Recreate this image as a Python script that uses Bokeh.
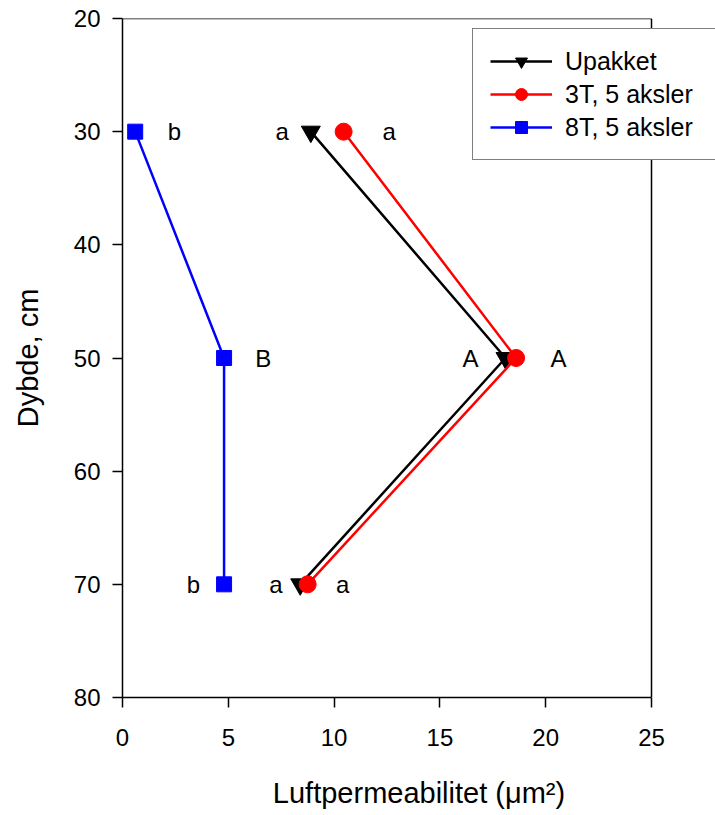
from bokeh.plotting import figure
from bokeh.models import ColumnDataSource, Legend, LegendItem, Range1d, FixedTicker
from bokeh.embed import file_html
from bokeh.resources import INLINE
from bokeh.core.properties import value

depth = [30, 50, 70]
upakket = [8.9, 18.1, 8.4]
t3 = [10.45, 18.6, 8.75]
t8 = [0.6, 4.8, 4.8]

series_names = ["Upakket", "3T, 5 aksler", "8T, 5 aksler"]

letter_x = [2.45, 7.55, 12.6, 6.65, 16.45, 20.6, 3.35, 7.25, 10.4]
letter_y = [30, 30, 30, 50, 50, 50, 70, 70, 70]
letter_txt = ["b", "a", "a", "B", "A", "A", "b", "a", "a"]

x_ticks = [0, 5, 10, 15, 20, 25]
y_ticks = [20, 30, 40, 50, 60, 70, 80]

FONT = "Liberation Sans"

# frame: left 122 .. 715 px; the axis box ends at x=25 (651 px)
FRAME_L, FRAME_R, AXIS_R = 122, 715, 651
x_end = x_ticks[-1] * (FRAME_R - FRAME_L) / (AXIS_R - FRAME_L)

p = figure(width=715, height=815, output_backend="svg", toolbar_location=None,
           x_range=Range1d(x_ticks[0], x_end), y_range=Range1d(y_ticks[-1], y_ticks[0]),
           min_border_left=FRAME_L, min_border_right=0, min_border_top=18, min_border_bottom=118)
p.grid.visible = False
p.outline_line_color = None
p.background_fill_color = "white"
p.border_fill_color = "white"

for ax in (p.xaxis[0], p.yaxis[0]):
    ax.major_label_text_font = FONT
    ax.major_label_text_font_size = "24px"
    ax.major_label_text_color = "black"
    ax.axis_label_text_font = FONT
    ax.axis_label_text_font_size = "29px"
    ax.axis_label_text_font_style = "normal"
    ax.axis_label_text_color = "black"
    ax.axis_line_width = 1.5
    ax.major_tick_line_width = 1.5
    ax.major_tick_out = 10
    ax.major_tick_in = 0
    ax.minor_tick_out = 0
    ax.minor_tick_in = 0

p.xaxis.bounds = (x_ticks[0], x_ticks[-1])
p.xaxis.ticker = FixedTicker(ticks=x_ticks)
p.yaxis.ticker = FixedTicker(ticks=y_ticks)
p.xaxis.axis_label = "Luftpermeabilitet (μm²)"
p.yaxis.axis_label = "Dybde, cm"
p.xaxis.major_label_standoff = 21
p.yaxis.major_label_standoff = 12
p.xaxis.axis_label_standoff = 28
p.yaxis.axis_label_standoff = 27

# top and right edges of the axis box
p.segment(x0=[x_ticks[0], x_ticks[-1]], y0=[y_ticks[0], y_ticks[0]],
          x1=[x_ticks[-1], x_ticks[-1]], y1=[y_ticks[0], y_ticks[-1]],
          line_color="black", line_width=1.5)

src = ColumnDataSource(dict(depth=depth, upakket=upakket, t3=t3, t8=t8))

l1 = p.line("upakket", "depth", source=src, line_color="black", line_width=2.5)
m1 = p.scatter("upakket", "depth", source=src, marker="inverted_triangle", size=19,
               fill_color="black", line_color="black")
l2 = p.line("t3", "depth", source=src, line_color="red", line_width=2.5)
m2 = p.scatter("t3", "depth", source=src, marker="circle", size=17,
               fill_color="red", line_color="red")
l3 = p.line("t8", "depth", source=src, line_color="blue", line_width=2.5)
m3 = p.scatter("t8", "depth", source=src, marker="square", size=15,
               fill_color="blue", line_color="blue")

lsrc = ColumnDataSource(dict(x=letter_x, y=letter_y, t=letter_txt))
p.text("x", "y", text="t", source=lsrc, text_font=value(FONT), text_font_size="24px",
       text_align="center", text_baseline="middle", text_color="black")

legend = Legend(items=[LegendItem(label=series_names[0], renderers=[l1, m1]),
                       LegendItem(label=series_names[1], renderers=[l2, m2]),
                       LegendItem(label=series_names[2], renderers=[l3, m3])],
                location=(350, 537))
legend.label_text_font = FONT
legend.label_text_font_size = "25px"
legend.label_text_color = "black"
legend.label_height = 30
legend.label_width = 150
legend.glyph_width = 62
legend.glyph_height = 30
legend.label_standoff = 13
legend.spacing = 3
legend.padding = 17
legend.margin = 0
legend.border_line_color = "black"
legend.border_line_width = 1.5
legend.background_fill_alpha = 1.0
legend.background_fill_color = "white"
p.add_layout(legend, "center")

open("out.html", "w").write(file_html(p, INLINE))
